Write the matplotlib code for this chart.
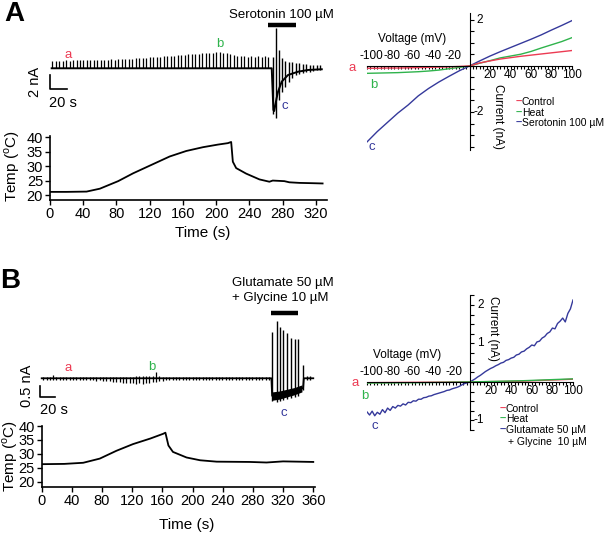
"""Heat / agonist responses: current traces, temperature and I-V curves"""
import numpy as np
from matplotlib import pyplot as plt
from matplotlib.ticker import MultipleLocator

W, H = 609, 545
RED = "#ec3b53"
GREEN = "#2fb34c"
BLUE = "#35399b"

# ---------------- panel A data ----------------
# ramp responses before serotonin (nA above holding), one per ramp
ramp_a_up = [1.1, 1.1, 1.1, 1.1, 1.15, 1.1, 1.15, 1.15, 1.2, 1.15,
             1.2, 1.2, 1.2, 1.25, 1.2, 1.25, 1.25, 1.3, 1.25, 1.3,
             1.3, 1.35, 1.3, 1.35, 1.4, 1.45, 1.4, 1.5, 1.55, 1.6,
             1.6, 1.65, 1.7, 1.75, 1.8, 1.8, 1.85, 1.9, 1.95, 2.0,
             2.05, 2.1, 2.1, 2.15, 2.2, 2.25, 2.2, 2.3, 2.3, 2.25,
             2.2, 2.1, 1.9, 1.8, 1.7, 1.7, 1.65, 1.7, 1.65, 1.7,
             1.65, 1.7, 1.65]
ramp_a_interval = 4.2  # s

sero_t = [268.3, 271.6, 275.6, 279.2, 282.8, 287.0, 291.2, 295.4, 299.6,
          303.9, 308.1, 312.3, 316.5, 320.7, 324.9]
sero_top = [1.6, 5.76, 2.6, 1.5, 1.0, 0.9, 0.83, 0.76, 0.69, 0.61, 0.61,
            0.54, 0.54, 0.47, 0.47]
sero_bot = [-6.5, -7.1, -4.5, -3.4, -2.7, -1.95, -1.4, -1.0, -0.8, -0.67,
            -0.53, -0.46, -0.39, -0.31, -0.31]

hold_a_t = [2, 266.8, 268.8, 269.8, 272.6, 274.4, 278.8, 286.4, 298.4, 310.5, 327]
hold_a_i = [0, 0, -5.96, -6.1, -4.3, -3.34, -1.91, -0.96, -0.49, -0.24, -0.14]
sero_bar = [262.5, 296.0]

temp_a_t = [0, 20, 44, 60, 82, 100, 122, 144, 164, 184, 202, 214, 218, 220,
            224, 236, 252, 264, 268, 282, 288, 300, 315, 328]
temp_a = [21.1, 21.1, 21.2, 22.2, 24.8, 27.5, 30.4, 33.3, 35.2, 36.5, 37.4,
          37.9, 38.3, 31.5, 29.3, 27.4, 25.4, 24.6, 25.0, 24.8, 24.4, 24.2,
          24.1, 24.0]

iv_a_v = [-100, -90, -80, -70, -60, -50, -40, -30, -20, -10, 0,
          10, 20, 30, 40, 50, 60, 70, 80, 90, 100]
iv_a_control = [-0.10, -0.10, -0.09, -0.09, -0.08, -0.07, -0.06, -0.05, -0.04,
                -0.02, 0, 0.13, 0.22, 0.30, 0.36, 0.42, 0.47, 0.52, 0.57,
                0.62, 0.67]
iv_a_heat = [-0.32, -0.31, -0.30, -0.29, -0.27, -0.25, -0.22, -0.18, -0.12,
             -0.06, 0, 0.12, 0.23, 0.35, 0.43, 0.51, 0.63, 0.78, 0.92, 1.06,
             1.23]
iv_a_sero = [-3.3, -2.85, -2.45, -2.05, -1.70, -1.30, -0.98, -0.70, -0.45,
             -0.21, 0, 0.22, 0.43, 0.62, 0.80, 0.98, 1.16, 1.35, 1.56, 1.76,
             1.97]

# ---------------- panel B data ----------------
ramp_b_up = [0.08, 0.08, 0.08, 0.17, 0.08, 0.08, 0.08, 0.08, 0.08, 0.08,
             0.08, 0.08, 0.08, 0.08, 0.08, 0.08, 0.08, 0.08, 0.08, 0.08,
             0.08, 0.08, 0.08, 0.08, 0.08, 0.08, 0.08, 0.08, 0.09, 0.09,
             0.09, 0.09, 0.1, 0.12, 0.3, 0.12, 0.08, 0.08, 0.08, 0.08,
             0.07, 0.07, 0.07, 0.07, 0.07, 0.07, 0.07, 0.07, 0.07, 0.07,
             0.07, 0.07, 0.07, 0.07, 0.07, 0.07, 0.07, 0.07, 0.07, 0.07,
             0.07, 0.07, 0.07, 0.07, 0.07, 0.07, 0.07, 0.07, 0.07]
ramp_b_down = [-0.08, -0.08, -0.08, -0.08, -0.09, -0.08, -0.09, -0.08, -0.09, -0.09,
               -0.09, -0.1, -0.09, -0.1, -0.1, -0.1, -0.11, -0.1, -0.12, -0.12,
               -0.13, -0.15, -0.16, -0.18, -0.2, -0.22, -0.2, -0.22, -0.24, -0.22,
               -0.24, -0.22, -0.2, -0.18, -0.16, -0.14, -0.12, -0.1, -0.09, -0.08,
               -0.08, -0.07, -0.07, -0.07, -0.07, -0.07, -0.07, -0.07, -0.07, -0.07,
               -0.07, -0.07, -0.07, -0.07, -0.07, -0.07, -0.07, -0.07, -0.07, -0.07,
               -0.07, -0.07, -0.07, -0.07, -0.07, -0.07, -0.07, -0.07, -0.07]
ramp_b_interval = 4.4  # s

glu_t = [305.7, 311.5, 315.9, 320.3, 325.6, 330.5, 335.8, 340.1, 346.8, 351.5, 356.0]
glu_top = [2.12, 2.62, 2.35, 2.2, 2.05, 1.82, 1.77, 1.77, 0.6, 0.12, 0.1]
glu_bot = [-1.03, -1.08, -1.03, -0.99, -0.94, -0.9, -0.85, -0.8, -0.53, -0.1, -0.1]

hold_b_t = [0, 304.5, 305.5, 315, 325, 335, 345, 346.5, 347.5, 360]
hold_b_i = [0, 0, -0.8, -0.77, -0.68, -0.58, -0.46, -0.45, 0, 0]
band_t = [305.5, 315, 325, 335, 345]
band_lo = [-1.0, -0.95, -0.85, -0.75, -0.62]
band_hi = [-0.62, -0.58, -0.5, -0.42, -0.3]
glu_bar = [304.5, 339.9]

temp_b_t = [0, 30, 55, 77, 99, 121, 144, 161, 164, 168, 174, 192, 210, 232,
            276, 298, 320, 360]
temp_b = [26.3, 26.4, 26.8, 28.3, 31.1, 33.5, 35.5, 37.2, 37.6, 33.0, 30.7,
          28.7, 27.7, 27.2, 27.1, 26.9, 27.3, 27.1]

iv_b_v = np.arange(-100, 100.1, 2.5)
iv_b_glu = [-0.78, -0.86, -0.76, -0.88, -0.79, -0.84, -0.72, -0.80, -0.68, -0.74,
            -0.64, -0.68, -0.61, -0.63, -0.57, -0.60, -0.53, -0.54, -0.49, -0.50,
            -0.45, -0.45, -0.41, -0.40, -0.37, -0.36, -0.33, -0.31, -0.29, -0.27,
            -0.25, -0.22, -0.21, -0.18, -0.16, -0.14, -0.11, -0.07, -0.04, -0.02,
            0.0, 0.04, 0.08, 0.13, 0.17, 0.22, 0.27, 0.31, 0.35, 0.38,
            0.42, 0.45, 0.49, 0.51, 0.56, 0.58, 0.62, 0.64, 0.70, 0.72,
            0.78, 0.80, 0.86, 0.90, 0.96, 0.94, 1.04, 1.06, 1.14, 1.18,
            1.26, 1.30, 1.40, 1.38, 1.52, 1.58, 1.66, 1.56, 1.78, 1.90, 2.13]
iv_b_v2 = [-100, -50, 0, 50, 100]
iv_b_control = [-0.02, -0.01, 0, 0.02, 0.07]
iv_b_heat = [-0.03, -0.02, 0, 0.03, 0.08]

iv_neg_ticks = [-100, -80, -60, -40, -20]
iv_pos_ticks = [20, 40, 60, 80, 100]

plt.rcParams["font.family"] = ["Liberation Sans", "DejaVu Sans"]
fig = plt.figure(figsize=(W / 100, H / 100), dpi=100)


def box(x0, y0, x1, y1):
    return [x0 / W, 1 - y1 / H, (x1 - x0) / W, (y1 - y0) / H]


def label(x, y, s, **kw):
    kw.setdefault("ha", "center")
    kw.setdefault("va", "center")
    fig.text(x / W, 1 - y / H, s, **kw)


def trace_axes(rect, xlim, ylim):
    ax = fig.add_axes(box(*rect))
    ax.set_xlim(xlim)
    ax.set_ylim(ylim)
    ax.axis("off")
    return ax


def temp_axes(rect, xlim, ylim, xticks):
    ax = fig.add_axes(box(*rect))
    ax.set_xlim(xlim)
    ax.set_ylim(ylim)
    for s in ["top", "right"]:
        ax.spines[s].set_visible(False)
    for s in ["left", "bottom"]:
        ax.spines[s].set_linewidth(1.2)
    ax.set_xticks(xticks)
    ax.set_yticks([20, 25, 30, 35, 40])
    ax.tick_params(labelsize=10.5, length=3.5, width=1.0, pad=1.5)
    return ax


def iv_axes(rect, ylim, yminor, yticks):
    ax = fig.add_axes(box(*rect))
    ax.set_xlim(-100, 100)
    ax.set_ylim(ylim)
    ax.spines["top"].set_visible(False)
    ax.spines["left"].set_visible(False)
    ax.spines["bottom"].set_position(("data", 0))
    ax.spines["right"].set_position(("data", 0))
    ax.yaxis.set_ticks_position("right")
    ax.xaxis.set_minor_locator(MultipleLocator(10 / 3))
    ax.xaxis.set_major_locator(MultipleLocator(20))
    ax.yaxis.set_minor_locator(MultipleLocator(yminor))
    ax.set_yticks(yticks)
    ax.set_xticklabels([])
    ax.set_yticklabels([])
    ax.tick_params(axis="x", which="both", direction="out", length=2.2, width=0.8)
    ax.tick_params(axis="y", which="both", direction="out", length=3, width=0.8)
    for v in iv_neg_ticks:
        ax.annotate(str(v), (v, 0), xytext=(3, 7.4), textcoords="offset points",
                    ha="center", va="center", fontsize=8.5)
    for v in iv_pos_ticks:
        ax.annotate(str(v), (v, 0), xytext=(0, -6.8), textcoords="offset points",
                    ha="center", va="center", fontsize=8.5)
    for v in yticks:
        ax.annotate(str(v), (0, v), xytext=(10, 0), textcoords="offset points",
                    ha="right", va="center", fontsize=8.5)
    return ax


def legend_rows(x, rows):
    for y, name, c in rows:
        label(x, y, "\u2013", color=c, fontsize=8, ha="left", fontweight="bold")
        label(x + 6, y, name, fontsize=7.5, ha="left")


# ================= Panel A =================
label(14, 14, "A", fontsize=20, fontweight="bold")

ax = trace_axes((50, 20, 327, 120), (0, 333.3), (-7.39, 6.9))
ramp_a_t = 2.5 + ramp_a_interval * np.arange(len(ramp_a_up))
ax.plot(hold_a_t, hold_a_i, color="black", lw=1.4, clip_on=False)
ax.vlines(ramp_a_t, 0, ramp_a_up, color="black", lw=0.9)
ax.vlines(sero_t, sero_bot, sero_top, color="black", lw=1.0, clip_on=False)
ax.plot(sero_bar, [6.2, 6.2], color="black", lw=3.2, solid_capstyle="butt")
ax.plot([0, 0, 20], [-1, -3, -3], color="black", lw=1.2, clip_on=False)
label(281, 15, "Serotonin 100 µM", fontsize=9.5)
label(42, 82, "2 nA", fontsize=10.5, rotation=90, ha="right")
label(49, 103, "20 s", fontsize=10.5, ha="left")
label(68, 55, "a", color=RED, fontsize=9.5)
label(220, 44, "b", color=GREEN, fontsize=9.5)
label(285, 106, "c", color=BLUE, fontsize=9.5)

ax = temp_axes((50, 135.6, 327, 200), (0, 333.3), (18.3, 40.5), range(0, 321, 40))
ax.plot(temp_a_t, temp_a, color="black", lw=1.3)
label(12, 166, r"Temp ($^{\mathregular{o}}$C)", fontsize=11, rotation=90)
label(203, 233, "Time (s)", fontsize=11)

ax = iv_axes((367, 13, 572, 150), (-3.65, 2.30), 0.5, [-2, 2])
ax.plot(iv_a_v, iv_a_sero, color=BLUE, lw=1.0)
ax.plot(iv_a_v, iv_a_heat, color=GREEN, lw=1.0)
ax.plot(iv_a_v, iv_a_control, color=RED, lw=1.0)
label(412, 39, "Voltage (mV)", fontsize=8.5)
label(498, 117, "Current (nA)", fontsize=8.5, rotation=270)
label(352, 68, "a", color=RED, fontsize=9.5)
label(374, 85, "b", color=GREEN, fontsize=9.5)
label(372, 147, "c", color=BLUE, fontsize=9.5)
legend_rows(516, [(102, "Control", RED), (112.5, "Heat", GREEN),
                  (123, "Serotonin 100 µM", BLUE)])

# ================= Panel B =================
label(10, 281, "B", fontsize=20, fontweight="bold")

ax = trace_axes((41.7, 300, 315.3, 415), (0, 362.7), (-1.67, 3.56))
ramp_b_t = 2 + ramp_b_interval * np.arange(len(ramp_b_up))
ax.fill_between(band_t, band_lo, band_hi, color="black", lw=0)
ax.plot(hold_b_t, hold_b_i, color="black", lw=1.3, clip_on=False)
ax.vlines(ramp_b_t, ramp_b_down, ramp_b_up, color="black", lw=0.9)
ax.vlines(glu_t, glu_bot, glu_top, color="black", lw=1.0, clip_on=False)
ax.plot(glu_bar, [2.95, 2.95], color="black", lw=3.2, solid_capstyle="butt")
ax.plot([-2, -2, 18], [-0.35, -0.85, -0.85], color="black", lw=1.2, clip_on=False)
label(232, 283, "Glutamate 50 µM", fontsize=9.5, ha="left")
label(232, 298, "+ Glycine 10 µM", fontsize=9.5, ha="left")
label(34, 386, "0.5 nA", fontsize=10.5, rotation=90, ha="right")
label(40, 410, "20 s", fontsize=10.5, ha="left")
label(68, 368, "a", color=RED, fontsize=9.5)
label(152, 367, "b", color=GREEN, fontsize=9.5)
label(284, 413, "c", color=BLUE, fontsize=9.5)

ax = temp_axes((41.7, 426, 315.3, 487.3), (0, 362.7), (18, 40), range(0, 361, 40))
ax.plot(temp_b_t, temp_b, color="black", lw=1.3)
label(10, 456, r"Temp ($^{\mathregular{o}}$C)", fontsize=11, rotation=90)
label(187, 525, "Time (s)", fontsize=11)

ax = iv_axes((367, 295, 573, 430), (-1.25, 2.26), 0.25, [-1, 1, 2])
ax.plot(iv_b_v, iv_b_glu, color=BLUE, lw=1.0)
ax.plot(iv_b_v2, iv_b_control, color=RED, lw=1.0)
ax.plot(iv_b_v2, iv_b_heat, color=GREEN, lw=1.0)
label(407, 355, "Voltage (mV)", fontsize=8.5)
label(493, 329, "Current (nA)", fontsize=8.5, rotation=270)
label(355, 383, "a", color=RED, fontsize=9.5)
label(365, 396, "b", color=GREEN, fontsize=9.5)
label(375, 426, "c", color=BLUE, fontsize=9.5)
legend_rows(500, [(409, "Control", RED), (418.5, "Heat", GREEN),
                  (430, "Glutamate 50 µM", BLUE)])
label(508, 442, "+ Glycine  10 µM", fontsize=7.5, ha="left")

fig.savefig("out.png", dpi=100)
